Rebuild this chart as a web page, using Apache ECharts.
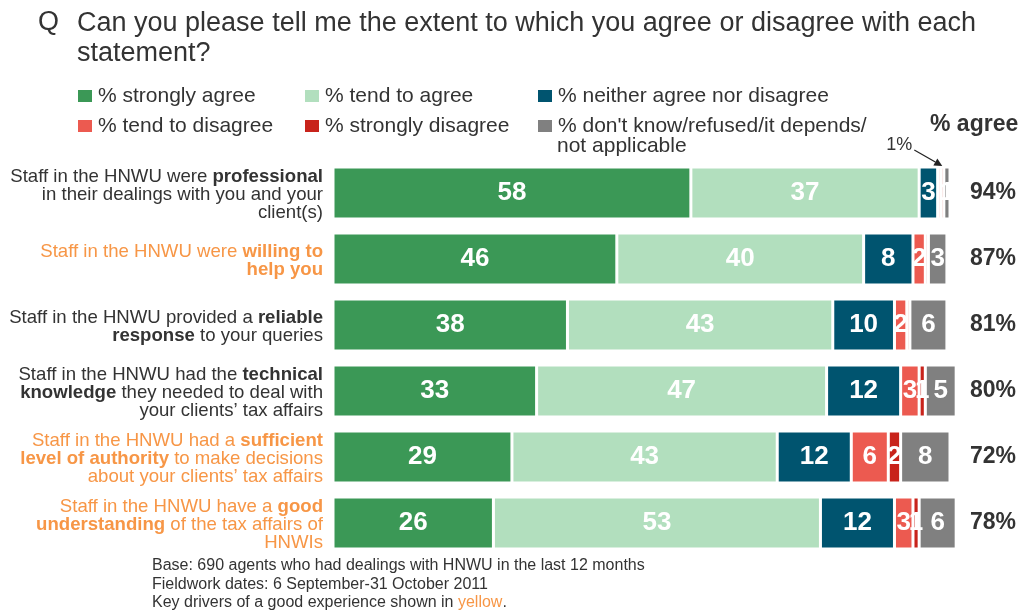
<!DOCTYPE html>
<html>
<head>
<meta charset="utf-8">
<script src="https://cdn.jsdelivr.net/npm/echarts@6/dist/echarts.min.js"></script>
<style>
  html, body { margin: 0; padding: 0; background: #fff; }
  #chart { width: 1024px; height: 615px; }
</style>
</head>
<body>
<div id="chart"></div>
<script>
// Statements (bold parts wrapped in **), top to bottom
const categories = [
  'Staff in the HNWU were **professional**\nin their dealings with you and your\nclient(s)',
  'Staff in the HNWU were **willing to**\n**help you**',
  'Staff in the HNWU provided a **reliable**\n**response** to your queries',
  'Staff in the HNWU had the **technical**\n**knowledge** they needed to deal with\nyour clients\u2019 tax affairs',
  'Staff in the HNWU had a **sufficient**\n**level of authority** to make decisions\nabout your clients\u2019 tax affairs',
  'Staff in the HNWU have a **good**\n**understanding** of the tax affairs of\nHNWIs'
];
// Key drivers of a good experience (drawn in orange)
const keyDriver = [false, true, false, false, true, true];

const seriesNames = [
  '% strongly agree',
  '% tend to agree',
  '% neither agree nor disagree',
  '% tend to disagree',
  '% strongly disagree',
  "% don't know/refused/it depends/not applicable"
];

const stronglyAgree    = [58, 46, 38, 33, 29, 26];
const tendToAgree      = [37, 40, 43, 47, 43, 53];
const neither          = [3, 8, 10, 12, 12, 12];
const tendToDisagree   = [0.5, 2, 2, 3, 6, 3];
const stronglyDisagree = [0.5, 0.5, 0.5, 1, 2, 1];
const dontKnow         = [1, 3, 6, 5, 8, 6];

// Total agreeing, as reported
const agreePct = [94, 87, 81, 80, 72, 78];

const seriesData = [stronglyAgree, tendToAgree, neither, tendToDisagree, stronglyDisagree, dontKnow];
const colors = ['#3b9856', '#b2dfbe', '#00546f', '#ec5a50', '#c8231b', '#808080'];

const FONT = '"Liberation Sans", Arial, sans-serif';
const TEXT = '#333333';
const ORANGE = '#f79646';
const BAR_W = 52;

function richLabel(value, index) {
  const orange = keyDriver[index];
  return categories[index].split('\n').map(function (line) {
    return line.split('**').map(function (part, i) {
      if (!part) return '';
      const bold = i % 2 === 1;
      const key = (orange ? 'o' : 'd') + (bold ? 'b' : 'n');
      return '{' + key + '|' + part + '}';
    }).join('');
  }).join('\n');
}

const labelBase = { fontFamily: FONT, fontSize: 18.6, lineHeight: 17.8 };

const chart = echarts.init(document.getElementById('chart'), null, { renderer: 'canvas' });

const series = seriesNames.map(function (name, si) {
  return {
    name: name,
    type: 'bar',
    stack: 'total',
    barWidth: BAR_W,
    clip: false,
    data: seriesData[si],
    itemStyle: { color: colors[si], borderColor: '#ffffff', borderWidth: 1.5 },
    label: {
      show: true,
      position: 'inside',
      color: '#ffffff',
      fontFamily: FONT,
      fontWeight: 'bold',
      fontSize: 26,
      formatter: function (p) { return p.value >= 1 ? String(p.value) : ''; }
    },
    emphasis: { disabled: true }
  };
});

// Legend, laid out in two rows of three; the long last entry wraps onto a second line
const legendPos = [
  [76, 84], [303, 84], [536, 84],
  [76, 114], [303, 114], [536, 114]
];
const legends = seriesNames.map(function (name, i) {
  return {
    data: [name],
    left: legendPos[i][0],
    top: legendPos[i][1],
    padding: 0,
    itemWidth: 16,
    itemHeight: 14,
    icon: 'rect',
    selectedMode: false,
    formatter: function (n) { return n.split('/not')[0] + (n.indexOf('/not') >= 0 ? '/' : ''); },
    textStyle: { fontFamily: FONT, fontSize: 21, color: TEXT, lineHeight: 24 }
  };
});

chart.setOption({
  animation: false,
  backgroundColor: '#ffffff',
  color: colors,
  legend: legends,
  grid: { left: 333, right: 74, top: 160, height: 396 },
  xAxis: {
    type: 'value',
    min: 0,
    max: 100,
    show: false
  },
  yAxis: [
    {
      type: 'category',
      inverse: true,
      data: categories,
      axisLine: { show: false },
      axisTick: { show: false },
      splitLine: { show: false },
      axisLabel: {
        margin: 10,
        align: 'right',
        padding: [4, 0, 0, 0],
        formatter: richLabel,
        rich: {
          dn: Object.assign({ color: TEXT }, labelBase),
          db: Object.assign({ color: TEXT, fontWeight: 'bold' }, labelBase),
          on: Object.assign({ color: ORANGE }, labelBase),
          ob: Object.assign({ color: ORANGE, fontWeight: 'bold' }, labelBase)
        }
      }
    },
    {
      type: 'category',
      inverse: true,
      position: 'right',
      data: agreePct.map(function (v) { return v + '%'; }),
      axisLine: { show: false },
      axisTick: { show: false },
      splitLine: { show: false },
      axisLabel: {
        margin: 20,
        align: 'left',
        fontFamily: FONT,
        fontSize: 23,
        fontWeight: 'bold',
        color: TEXT
      }
    }
  ],
  series: series
});

// Question, column header, legend wrap line and footnotes
const graphics = [
  {
    type: 'text', left: 38, top: 9,
    style: { text: 'Q', fontFamily: FONT, fontSize: 27, fill: TEXT }
  },
  {
    type: 'text', left: 77, top: 9,
    style: {
      text: 'Can you please tell me the extent to which you agree or disagree with each\nstatement?',
      fontFamily: FONT, fontSize: 27, lineHeight: 30, fill: TEXT
    }
  },
  {
    type: 'text', left: 557, top: 136,
    style: { text: 'not applicable', fontFamily: FONT, fontSize: 21, fill: TEXT }
  },
  {
    type: 'text', left: 930, top: 113,
    style: { text: '% agree', fontFamily: FONT, fontSize: 23, fontWeight: 'bold', fill: TEXT }
  },
  {
    type: 'text', left: 152, top: 558,
    style: {
      text: '{t|Base: 690 agents who had dealings with HNWU in the last 12 months}\n' +
            '{t|Fieldwork dates: 6 September-31 October 2011}\n' +
            '{t|Key drivers of a good experience shown in }{y|yellow}{t|.}',
      rich: {
        t: { fontFamily: FONT, fontSize: 16, lineHeight: 18.5, fill: TEXT },
        y: { fontFamily: FONT, fontSize: 16, lineHeight: 18.5, fill: ORANGE }
      }
    }
  }
];

// Call-out arrow pointing at the thin disagree segments of the first bar
const calloutValue = stronglyAgree[0] + tendToAgree[0] + neither[0] + tendToDisagree[0] + stronglyDisagree[0] / 2;
const tipX = chart.convertToPixel({ xAxisIndex: 0 }, calloutValue);
const rowY = chart.convertToPixel({ yAxisIndex: 0 }, 0);
const tipY = rowY - BAR_W / 2 - 1;
const tailX = tipX - 28, tailY = tipY - 16;
const ang = Math.atan2(tipY - tailY, tipX - tailX);
const ah = 8, aw = 4;
const bx = tipX - ah * Math.cos(ang), by = tipY - ah * Math.sin(ang);
graphics.push(
  {
    type: 'line',
    shape: { x1: tailX, y1: tailY, x2: bx, y2: by },
    style: { stroke: '#222', lineWidth: 1.2 }
  },
  {
    type: 'polygon',
    shape: {
      points: [
        [tipX, tipY],
        [bx + aw * Math.sin(ang), by - aw * Math.cos(ang)],
        [bx - aw * Math.sin(ang), by + aw * Math.cos(ang)]
      ]
    },
    style: { fill: '#222' }
  },
  {
    type: 'text',
    x: tailX - 2, y: tailY - 5,
    style: {
      text: (tendToDisagree[0] + stronglyDisagree[0]) + '%',
      fontFamily: FONT, fontSize: 18, fill: TEXT,
      align: 'right', verticalAlign: 'middle'
    }
  }
);

chart.setOption({ graphic: graphics });
</script>
</body>
</html>
